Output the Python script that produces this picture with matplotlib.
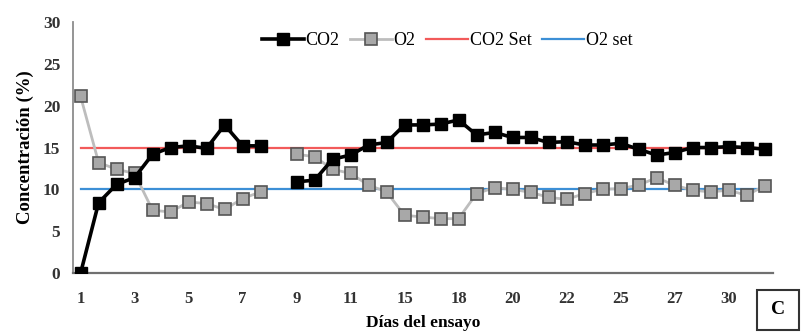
import numpy as np
import matplotlib
matplotlib.use("Agg")
import matplotlib.pyplot as plt
from matplotlib.patches import Rectangle

nan = np.nan
co2 = [0.0, 8.4, 10.6, 11.4, 14.2, 15.0, 15.2, 14.9, 17.7, 15.2, 15.2, nan,
       10.9, 11.1, 13.6, 14.1, 15.3, 15.6, 17.7, 17.7, 17.8, 18.3, 16.5, 16.8,
       16.2, 16.2, 15.6, 15.7, 15.3, 15.3, 15.5, 14.8, 14.1, 14.4, 15.0, 15.0,
       15.1, 15.0, 14.8]
o2 = [21.1, 13.2, 12.4, 11.9, 7.5, 7.3, 8.5, 8.3, 7.6, 8.9, 9.7, nan,
      14.2, 13.9, 12.4, 11.9, 10.5, 9.7, 6.9, 6.7, 6.5, 6.5, 9.5, 10.2,
      10.0, 9.65, 9.05, 8.8, 9.5, 10.0, 10.1, 10.5, 11.4, 10.5, 9.9, 9.7,
      9.9, 9.3, 10.4]
co2_set = 15
o2_set = 10
tick_labels = ["1", "3", "5", "7", "9", "11", "15", "18", "20", "22", "25", "27", "30"]
tick_step = 3

plt.rcParams['font.family'] = ['Liberation Serif', 'DejaVu Serif']

fig = plt.figure(figsize=(8.05, 3.33), dpi=100)
ax = fig.add_axes([0.0903, 0.180, 0.8697, 0.754])

n = len(co2)
x = np.arange(n)
ax.plot(x, np.full(n, co2_set), color='#f25a5a', lw=1.6, label='CO2 Set', zorder=2)
ax.plot(x, np.full(n, o2_set), color='#3c8fd6', lw=1.6, label='O2 set', zorder=2)
ax.plot(x, o2, color='#bdbdbd', lw=2.0, marker='s', ms=8.5, mfc='#a8a8a8',
        mec='#555555', mew=1.2, label='O2', zorder=3)
ax.plot(x, co2, color='black', lw=2.6, marker='s', ms=8.5, mfc='black',
        mec='black', label='CO2', zorder=4)

ax.set_xlim(-0.44, 38.46)
ax.set_ylim(0, 30)
ax.set_yticks(range(0, 31, 5))
ax.set_xticks(np.arange(0, n, tick_step)[:len(tick_labels)])
ax.set_xticklabels(tick_labels)
ax.tick_params(length=0, labelsize=12, colors='#333333', pad=13)
ax.tick_params(axis='y', labelsize=12.5, pad=9)
for lab in ax.get_xticklabels() + ax.get_yticklabels():
    lab.set_fontweight('bold')

for s in ['top', 'right']:
    ax.spines[s].set_visible(False)
ax.spines['left'].set_color('#8c8c8c')
ax.spines['left'].set_linewidth(1.3)
ax.spines['bottom'].set_color('#707070')
ax.spines['bottom'].set_linewidth(1.6)

ax.set_ylabel('Concentración (%)', fontsize=13.5, fontweight='bold', labelpad=6)
ax.set_xlabel('Días del ensayo', fontsize=12.5, fontweight='bold', labelpad=6)

h, l = ax.get_legend_handles_labels()
order = [3, 2, 0, 1]
ax.legend([h[i] for i in order], [l[i] for i in order], loc='upper center',
          bbox_to_anchor=(0.535, 1.025), ncol=4, frameon=False, fontsize=13,
          handlelength=2.3, handletextpad=0.1, columnspacing=0.6)

fig.patches.append(Rectangle((757/805, 3/333), 42/805, 40/333, transform=fig.transFigure,
                             fill=False, edgecolor='#333333', lw=1.5))
fig.text(778/805, 23/333, 'C', fontsize=14, fontweight='bold', ha='center', va='center')

fig.savefig('out.png', dpi=100)
